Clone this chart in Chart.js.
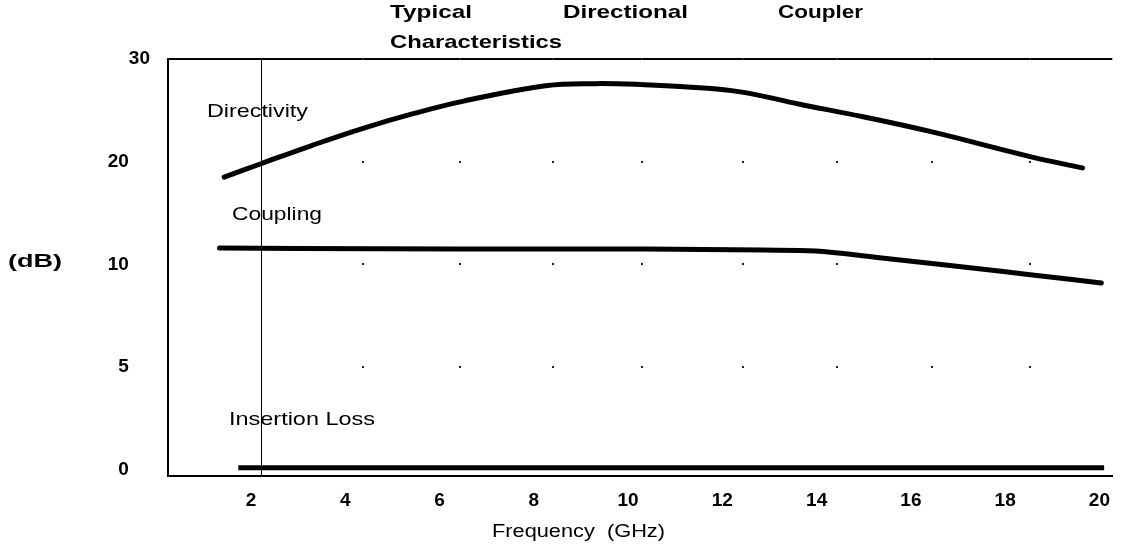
<!DOCTYPE html>
<html lang="en">
<head>
    <meta charset="UTF-8">
    <title>Typical Directional Coupler Characteristics</title>
    <style>
        body {
            margin: 0;
            padding: 0;
            background-color: #ffffff;
        }

        canvas {
            display: block;
        }
    </style>
</head>
<body>
    <canvas id="myChart" width="1123" height="544"></canvas>

    <script src="https://cdn.jsdelivr.net/npm/chart.js"></script>
    <script>
        // Values (frequency in GHz, level in dB)
        const directivityFreq = [1.43, 2.21, 3.3, 4.41, 5.46, 6.51, 8.25, 9.3, 10.35, 11.19, 12.38, 13.64, 14.96, 16.45, 18.53, 19.64];
        const directivityDb = [18.5, 19.8, 21.6, 23.3, 24.7, 25.9, 27.4, 27.6, 27.5, 27.3, 26.8, 25.6, 24.4, 22.9, 20.5, 19.4];

        const couplingFreq = [1.33, 6.36, 10.35, 12.87, 13.98, 15.24, 16.64, 18.53, 20.04];
        const couplingDb = [11.6, 11.5, 11.5, 11.4, 11.3, 10.7, 10.0, 9.5, 9.1];

        const insertionFreq = [1.73, 20.1];
        const insertionDb = [0.1, 0.1];

        // Tick labels. The dB axis is drawn with equal spacing between these values
        const xTicks = [2, 4, 6, 8, 10, 12, 14, 16, 18, 20];
        const yTickDb = [0, 5, 10, 20, 30];

        // thin vertical rule and the dotted grid marks
        const guideFreq = 2.21;
        const gridFreqs = [4.37, 6.43, 8.40, 10.29, 12.43, 14.44, 16.45, 18.53];
        const gridDb = [30, 20, 10, 5];

        // piecewise map dB -> equally spaced axis position
        function dbToPos(db) {
            let i = 0;
            while (i < yTickDb.length - 2 && db > yTickDb[i + 1]) i++;
            const a = yTickDb[i], b = yTickDb[i + 1];
            return i + (db - a) / (b - a);
        }

        function toPoints(freqs, dbs) {
            return freqs.map((f, i) => ({ x: f, y: dbToPos(dbs[i]) }));
        }

        const tickFont = { family: 'Liberation Sans', size: 19, weight: 'bold' };

        function fitText(ctx, t) {
            ctx.save();
            ctx.font = t.font;
            ctx.textAlign = 'left';
            ctx.textBaseline = 'middle';
            const w = ctx.measureText(t.text).width;
            ctx.translate(t.x, t.y);
            ctx.scale(t.w / w, 1);
            ctx.fillStyle = '#000';
            ctx.fillText(t.text, 0, 0);
            ctx.restore();
        }

        const labels = [
            { text: 'Typical', x: 390, y: 13, w: 82, font: 'bold 19px "Liberation Sans"' },
            { text: 'Directional', x: 563, y: 13, w: 125, font: 'bold 19px "Liberation Sans"' },
            { text: 'Coupler', x: 778, y: 13, w: 85, font: 'bold 19px "Liberation Sans"' },
            { text: 'Characteristics', x: 390, y: 43, w: 172, font: 'bold 19px "Liberation Sans"' },
            { text: 'Directivity', x: 207, y: 112, w: 101, font: '19px "Liberation Sans"' },
            { text: 'Coupling', x: 232, y: 215, w: 90, font: '19px "Liberation Sans"' },
            { text: 'Insertion Loss', x: 229, y: 420, w: 146, font: '19px "Liberation Sans"' },
            { text: '(dB)', x: 8, y: 262, w: 54, font: 'bold 19px "Liberation Sans"' },
            { text: 'Frequency  (GHz)', x: 492, y: 532, w: 173, font: '18px "Liberation Sans"' }
        ];

        const decorations = {
            id: 'decorations',
            beforeDatasetsDraw(chart) {
                const { ctx, chartArea, scales } = chart;
                ctx.save();
                // top border
                ctx.strokeStyle = '#000';
                ctx.lineWidth = 2;
                ctx.beginPath();
                ctx.moveTo(chartArea.left, chartArea.top);
                ctx.lineTo(chartArea.right, chartArea.top);
                ctx.stroke();
                // vertical rule
                const gx = Math.round(scales.x.getPixelForValue(guideFreq)) + 0.5;
                ctx.lineWidth = 1;
                ctx.beginPath();
                ctx.moveTo(gx, chartArea.top);
                ctx.lineTo(gx, chartArea.bottom);
                ctx.stroke();
                // grid dots
                ctx.fillStyle = '#222';
                gridFreqs.forEach(f => {
                    const px = scales.x.getPixelForValue(f);
                    gridDb.forEach(d => {
                        const py = scales.y.getPixelForValue(dbToPos(d));
                        ctx.fillRect(Math.round(px) - 1, Math.round(py) - 1, 2, 2);
                    });
                });
                ctx.restore();
            },
            afterDraw(chart) {
                labels.forEach(t => fitText(chart.ctx, t));
            }
        };

        const lineStyle = {
            borderColor: '#000',
            borderWidth: 5,
            borderCapStyle: 'round',
            pointRadius: 0,
            fill: false
        };

        const ctx = document.getElementById('myChart').getContext('2d');

        let chart = new Chart(ctx, {
            type: 'line',
            data: {
                datasets: [
                    Object.assign({ label: 'Directivity', data: toPoints(directivityFreq, directivityDb) }, lineStyle, { tension: 0.4 }),
                    Object.assign({ label: 'Coupling', data: toPoints(couplingFreq, couplingDb) }, lineStyle, { cubicInterpolationMode: 'monotone' }),
                    Object.assign({ label: 'Insertion Loss', data: toPoints(insertionFreq, insertionDb) }, lineStyle, { borderCapStyle: 'butt' })
                ]
            },
            options: {
                responsive: false,
                animation: false,
                layout: { padding: { left: 0, top: 59, right: 0, bottom: 0 } },
                plugins: {
                    legend: { display: false },
                    tooltip: { enabled: false },
                    title: { display: false }
                },
                scales: {
                    x: {
                        type: 'linear',
                        min: 0.238,
                        max: 20.273,
                        grid: { display: false, drawTicks: false },
                        border: { display: true, color: '#000', width: 2 },
                        afterBuildTicks: scale => { scale.ticks = xTicks.map(v => ({ value: v })); },
                        afterFit: scale => { scale.height = 68; },
                        ticks: {
                            font: tickFont,
                            color: '#000',
                            padding: 13,
                            maxRotation: 0,
                            autoSkip: false
                        }
                    },
                    y: {
                        type: 'linear',
                        min: -0.06,
                        max: 4,
                        grid: { display: false, drawTicks: false },
                        border: { display: true, color: '#000', width: 2 },
                        afterBuildTicks: scale => { scale.ticks = yTickDb.map((d, i) => ({ value: i })); },
                        afterFit: scale => { scale.width = 168; },
                        ticks: {
                            font: tickFont,
                            color: '#000',
                            padding: 18,
                            // the top label sits further right than the others
                            callback: (v, i) => i === yTickDb.length - 1 ? String(yTickDb[i]) : yTickDb[i] + '    '
                        }
                    }
                }
            },
            plugins: [decorations]
        });
    </script>
</body>
</html>
